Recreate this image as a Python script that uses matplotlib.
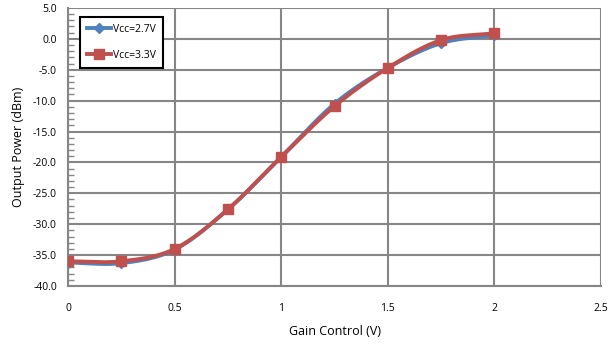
import numpy as np
import matplotlib
matplotlib.use("Agg")
import matplotlib.pyplot as plt
from matplotlib.ticker import MultipleLocator, FormatStrFormatter

gain = [0, 0.25, 0.5, 0.75, 1.0, 1.25, 1.5, 1.75, 2.0]
vcc27 = [-36.2, -36.3, -34.1, -27.6, -19.1, -10.5, -4.7, -0.7, 0.6]
vcc33 = [-36.0, -36.0, -34.0, -27.6, -19.1, -10.9, -4.7, -0.2, 0.9]
labels = ["Vcc=2.7V", "Vcc=3.3V"]
colors = ["#4F81BD", "#C0504D"]


def smooth(x, y, n=30):
    x = np.asarray(x, float)
    y = np.asarray(y, float)
    px = np.concatenate([[2 * x[0] - x[1]], x, [2 * x[-1] - x[-2]]])
    py = np.concatenate([[2 * y[0] - y[1]], y, [2 * y[-1] - y[-2]]])
    xs, ys = [], []
    t = np.linspace(0, 1, n, endpoint=False)
    for i in range(1, len(px) - 2):
        for arr, out in ((px, xs), (py, ys)):
            p0, p1, p2, p3 = arr[i - 1], arr[i], arr[i + 1], arr[i + 2]
            out.extend(0.5 * ((2 * p1) + (-p0 + p2) * t
                              + (2 * p0 - 5 * p1 + 4 * p2 - p3) * t ** 2
                              + (-p0 + 3 * p1 - 3 * p2 + p3) * t ** 3))
    xs.append(x[-1])
    ys.append(y[-1])
    return np.array(xs), np.array(ys)


plt.rcParams['font.family'] = ['Open Sans', 'DejaVu Sans']
fig = plt.figure(figsize=(6.09, 3.45), dpi=100)
ax = fig.add_axes([0.1117, 0.171, 0.8753, 0.806])

for ys, lab, c, m, ms in ((vcc27, labels[0], colors[0], 'D', 5),
                          (vcc33, labels[1], colors[1], 's', 7)):
    sx, sy = smooth(gain, ys)
    ax.plot(sx, sy, color=c, lw=2.8, zorder=3, solid_capstyle='round')
    ax.plot(gain, ys, ls='none', marker=m, ms=ms, color=c, zorder=4)
    ax.plot([], [], color=c, lw=2.8, marker=m, ms=ms, label=lab)

ax.set_xlim(0, 2.5)
ax.set_ylim(-40, 5)
ax.xaxis.set_major_locator(MultipleLocator(0.5))
ax.yaxis.set_major_locator(MultipleLocator(5))
ax.yaxis.set_minor_locator(MultipleLocator(1))
ax.yaxis.set_major_formatter(FormatStrFormatter('%.1f'))
ax.xaxis.set_major_formatter(matplotlib.ticker.FuncFormatter(lambda v, p: f"{v:g}"))
ax.grid(True, which='major', color='#868686', lw=1.5)
ax.set_axisbelow(True)
for s in ('top', 'right'):
    ax.spines[s].set_visible(False)
for s in ('left', 'bottom'):
    ax.spines[s].set_color('#868686')
    ax.spines[s].set_linewidth(1.5)
ax.tick_params(axis='y', which='both', direction='in', color='#868686', labelsize=7.5, pad=8)
ax.tick_params(axis='y', which='major', length=0)
ax.tick_params(axis='y', which='minor', length=4, width=1)
ax.tick_params(axis='x', length=0, labelsize=7.5, pad=12)
ax.set_xlabel("Gain Control (V)", fontsize=9, labelpad=8)
ax.set_ylabel("Output Power (dBm)", fontsize=9, labelpad=6)

leg = ax.legend(loc='upper left', bbox_to_anchor=(0.022, 0.968), fontsize=7.5,
                frameon=True, fancybox=False, handlelength=2.3, borderpad=0.7,
                labelspacing=1.4, handletextpad=0.2, borderaxespad=0.0)
leg.get_frame().set_edgecolor('black')
leg.get_frame().set_linewidth(1.5)
leg.get_frame().set_alpha(1)

fig.savefig("out.png", dpi=100)
